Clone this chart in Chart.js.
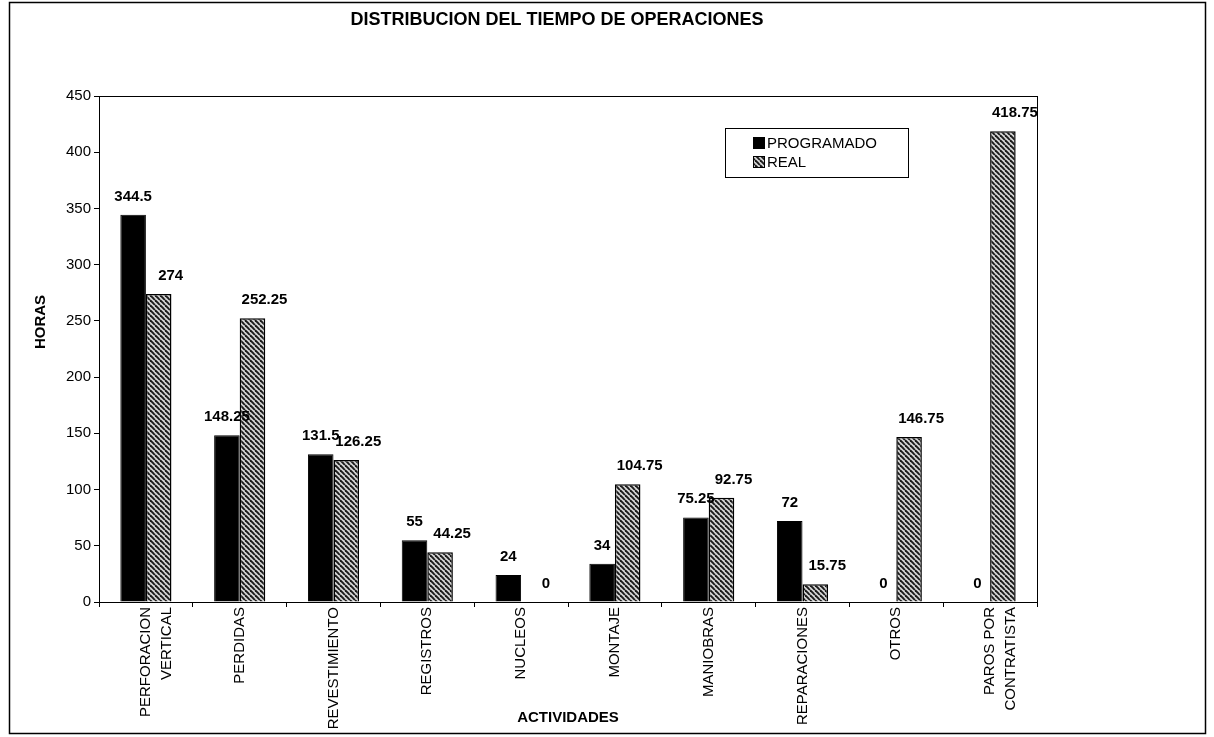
<!DOCTYPE html>
<html>
<head>
<meta charset="utf-8">
<script src="https://cdn.jsdelivr.net/npm/chart.js"></script>
<style>
  html, body { margin: 0; padding: 0; background: #fff; }
  #wrap { position: relative; width: 1214px; height: 737px; }
</style>
</head>
<body>
<div id="wrap"><canvas id="chart" width="1214" height="737"></canvas></div>
<script>
  // datos
  const categories = [['PERFORACION', 'VERTICAL'], 'PERDIDAS', 'REVESTIMIENTO', 'REGISTROS', 'NUCLEOS',
    'MONTAJE', 'MANIOBRAS', 'REPARACIONES', 'OTROS', ['PAROS POR', 'CONTRATISTA']];
  const programado = [344.5, 148.25, 131.5, 55, 24, 34, 75.25, 72, 0, 0];
  const real = [274, 252.25, 126.25, 44.25, 0, 104.75, 92.75, 15.75, 146.75, 418.75];
  const seriesNames = ['PROGRAMADO', 'REAL'];
  const yMin = 0, yMax = 450, yStep = 50;

  const FONT = '"Liberation Sans", Arial, sans-serif';

  // trama rayada para la serie REAL
  function makeHatch() {
    const s = 5;
    const c = document.createElement('canvas');
    c.width = s; c.height = s;
    const g = c.getContext('2d');
    g.fillStyle = '#d4d4d4';
    g.fillRect(0, 0, s, s);
    g.strokeStyle = '#1a1a1a';
    g.lineWidth = 1.9;
    for (let x = -s; x <= s; x += s) {
      g.beginPath();
      g.moveTo(x, 0);
      g.lineTo(x + s, s);
      g.stroke();
    }
    return g.createPattern(c, 'repeat');
  }
  const hatch = makeHatch();

  const decor = {
    id: 'decor',
    afterDraw(chart) {
      const ctx = chart.ctx, a = chart.chartArea;
      ctx.save();
      ctx.strokeStyle = '#000';
      ctx.fillStyle = '#000';

      // marco exterior
      ctx.lineWidth = 1.5;
      ctx.strokeRect(9.5, 2.5, 1196, 731);

      // caja del area de trazado
      ctx.lineWidth = 1;
      ctx.strokeRect(a.left + 0.5, a.top + 0.5, a.right - a.left, a.bottom - a.top);

      // titulo
      ctx.font = 'bold 18px ' + FONT;
      ctx.textAlign = 'center';
      ctx.textBaseline = 'middle';
      ctx.fillText('DISTRIBUCION DEL TIEMPO DE OPERACIONES', 557, 20);

      // titulos de ejes
      ctx.font = 'bold 15px ' + FONT;
      ctx.fillText('ACTIVIDADES', (a.left + a.right) / 2, 718);
      ctx.save();
      ctx.translate(41, 322);
      ctx.rotate(-Math.PI / 2);
      ctx.fillText('HORAS', 0, 0);
      ctx.restore();

      // etiquetas de valores
      ctx.font = 'bold 15px ' + FONT;
      ctx.textBaseline = 'alphabetic';
      chart.data.datasets.forEach((ds, i) => {
        const dx = i === 0 ? 0 : 12;
        chart.getDatasetMeta(i).data.forEach((bar, j) => {
          ctx.fillText(String(ds.data[j]), bar.x + dx, bar.y - 14);
        });
      });

      // leyenda
      ctx.lineWidth = 1;
      ctx.strokeRect(725.5, 128.5, 183, 49);
      ctx.font = '15px ' + FONT;
      ctx.textAlign = 'left';
      ctx.textBaseline = 'middle';
      chart.data.datasets.forEach((ds, i) => {
        const y = 143 + i * 19;
        ctx.fillStyle = ds.backgroundColor;
        ctx.fillRect(753, y - 6, 12, 12);
        ctx.strokeRect(753.5, y - 5.5, 11, 11);
        ctx.fillStyle = '#000';
        ctx.fillText(ds.label, 767, y + 1);
      });
      ctx.restore();
    }
  };

  new Chart(document.getElementById('chart'), {
    type: 'bar',
    data: {
      labels: categories,
      datasets: [
        {
          label: seriesNames[0],
          data: programado,
          backgroundColor: '#000',
          borderColor: '#000',
          borderWidth: 1
        },
        {
          label: seriesNames[1],
          data: real,
          backgroundColor: hatch,
          borderColor: '#000',
          borderWidth: 1.5
        }
      ]
    },
    options: {
      responsive: false,
      animation: false,
      devicePixelRatio: 1,
      layout: { padding: { top: 96, left: 0, right: 177, bottom: 0 } },
      datasets: { bar: { categoryPercentage: 0.545, barPercentage: 1 } },
      plugins: {
        legend: { display: false },
        title: { display: false },
        tooltip: { enabled: false }
      },
      scales: {
        x: {
          grid: { offset: true, drawOnChartArea: false, tickLength: 5, color: '#000' },
          border: { color: '#000', width: 1 },
          ticks: {
            autoSkip: false,
            maxRotation: 90,
            minRotation: 90,
            padding: 0,
            color: '#000',
            font: { family: FONT, size: 15, lineHeight: 1.4 }
          },
          afterFit(scale) { scale.height = 135; }
        },
        y: {
          min: yMin,
          max: yMax,
          grid: { drawOnChartArea: false, tickLength: 5, color: '#000' },
          border: { color: '#000', width: 1 },
          ticks: {
            stepSize: yStep,
            padding: 3,
            color: '#000',
            font: { family: FONT, size: 15 }
          },
          afterFit(scale) { scale.width = 99; }
        }
      }
    },
    plugins: [decor]
  });
</script>
</body>
</html>
